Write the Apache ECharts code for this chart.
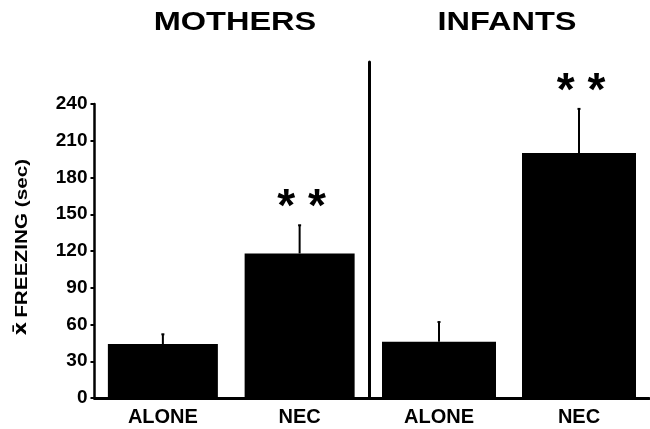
<!DOCTYPE html>
<html>
<head>
<meta charset="utf-8">
<script src="https://cdn.jsdelivr.net/npm/echarts@6/dist/echarts.min.js"></script>
<style>
  html, body { margin: 0; padding: 0; background: #fff; }
  #chart { width: 650px; height: 429px; }
</style>
</head>
<body>
<div id="chart"></div>
<script>
// Group names shown above each panel
const panelTitles = ['MOTHERS', 'INFANTS'];
// Conditions within each panel
const categories = ['ALONE', 'NEC'];
// Mean freezing time (sec) and top of the error bar (mean + SEM)
const mothersMean = [44, 118];
const mothersErrTop = [52, 141];
const infantsMean = [46, 200];
const infantsErrTop = [62, 236];
// Significance markers drawn above each error bar
const mothersSig = ['', '* *'];
const infantsSig = ['', '* *'];
// Y axis range and step
const yMin = 0, yMax = 240, yStep = 30;
const yTitleMean = 'x\u0304';
const yTitleRest = 'FREEZING (sec)';

const FONT = '"Liberation Sans", Arial, Helvetica, sans-serif';

// layout (px)
const baseY = 398;       // shared baseline
const axisTopY = 104;    // top of the labelled y axis (240)
const dividerTopY = 62;  // top of the divider between panels
const plotH = baseY - axisTopY;
// right panel uses the same scale but its axis line reaches higher
const rightMax = yMax * (baseY - dividerTopY) / plotH;

const chart = echarts.init(document.getElementById('chart'), null, { renderer: 'canvas' });

function errorSeries(gridIdx, means, tops, sigs) {
  return {
    type: 'custom',
    xAxisIndex: gridIdx,
    yAxisIndex: gridIdx,
    data: means.map((m, i) => [i, m, tops[i]]),
    z: 5,
    renderItem: function (params, api) {
      const base = api.coord([api.value(0), api.value(1)]);
      const top = api.coord([api.value(0), api.value(2)]);
      const children = [{
        type: 'line',
        shape: { x1: base[0], y1: base[1], x2: top[0], y2: top[1] },
        style: { stroke: '#000', lineWidth: 2 }
      }, {
        type: 'line',
        shape: { x1: top[0] - 1.5, y1: top[1], x2: top[0] + 1.5, y2: top[1] },
        style: { stroke: '#000', lineWidth: 2 }
      }];
      const s = sigs[params.dataIndex];
      if (s) {
        children.push({
          type: 'text',
          style: {
            text: s, x: top[0] + 2, y: top[1] + 6,
            font: 'bold 46px ' + FONT, fill: '#000',
            textAlign: 'center', textVerticalAlign: 'bottom'
          }
        });
      }
      return { type: 'group', children: children };
    }
  };
}

const option = {
  backgroundColor: '#fff',
  animation: false,
  grid: [
    { left: 94.5, top: axisTopY, width: 273.5, height: plotH },
    { left: 369, top: dividerTopY, width: 280, height: baseY - dividerTopY }
  ],
  xAxis: [0, 1].map(g => ({
    type: 'category',
    gridIndex: g,
    data: categories,
    axisLine: { show: true, lineStyle: { color: '#000', width: 3 } },
    axisTick: { show: false },
    axisLabel: {
      color: '#000', fontFamily: FONT, fontWeight: 'bold', fontSize: 20, margin: 9
    }
  })),
  yAxis: [
    {
      type: 'value', gridIndex: 0, min: yMin, max: yMax, interval: yStep,
      axisLine: { show: true, lineStyle: { color: '#000', width: 2.5 } },
      axisTick: { show: true, length: 4, lineStyle: { color: '#000', width: 2 } },
      axisLabel: {
        color: '#000', fontFamily: FONT, fontWeight: 'bold', fontSize: 19, margin: 7
      },
      splitLine: { show: false }
    },
    {
      type: 'value', gridIndex: 1, min: yMin, max: rightMax,
      axisLine: { show: true, lineStyle: { color: '#000', width: 3 } },
      axisTick: { show: false },
      axisLabel: { show: false },
      splitLine: { show: false }
    }
  ],
  series: [
    {
      type: 'bar', xAxisIndex: 0, yAxisIndex: 0,
      data: mothersMean, barWidth: 110,
      itemStyle: { color: '#000' }
    },
    {
      type: 'bar', xAxisIndex: 1, yAxisIndex: 1,
      data: infantsMean, barWidth: 114,
      itemStyle: { color: '#000' }
    },
    errorSeries(0, mothersMean, mothersErrTop, mothersSig),
    errorSeries(1, infantsMean, infantsErrTop, infantsSig)
  ],
  graphic: [
    {
      type: 'text', x: 235, y: 23, scaleX: 1.25,
      style: {
        text: panelTitles[0], font: 'bold 26px ' + FONT, fill: '#000',
        textAlign: 'center', textVerticalAlign: 'middle'
      }
    },
    {
      type: 'text', x: 507, y: 23, scaleX: 1.25,
      style: {
        text: panelTitles[1], font: 'bold 26px ' + FONT, fill: '#000',
        textAlign: 'center', textVerticalAlign: 'middle'
      }
    },
    {
      type: 'text', x: 22, y: 247, rotation: Math.PI / 2, scaleX: 1.22,
      style: {
        text: '{m|' + yTitleMean + '} {r|' + yTitleRest + '}',
        fill: '#000',
        align: 'center', verticalAlign: 'middle',
        rich: {
          m: { fontFamily: '"DejaVu Sans"', fontWeight: 'bold', fontSize: 17, fill: '#000' },
          r: { fontFamily: FONT, fontWeight: 'bold', fontSize: 17, fill: '#000' }
        }
      }
    }
  ]
};

chart.setOption(option);
</script>
</body>
</html>
